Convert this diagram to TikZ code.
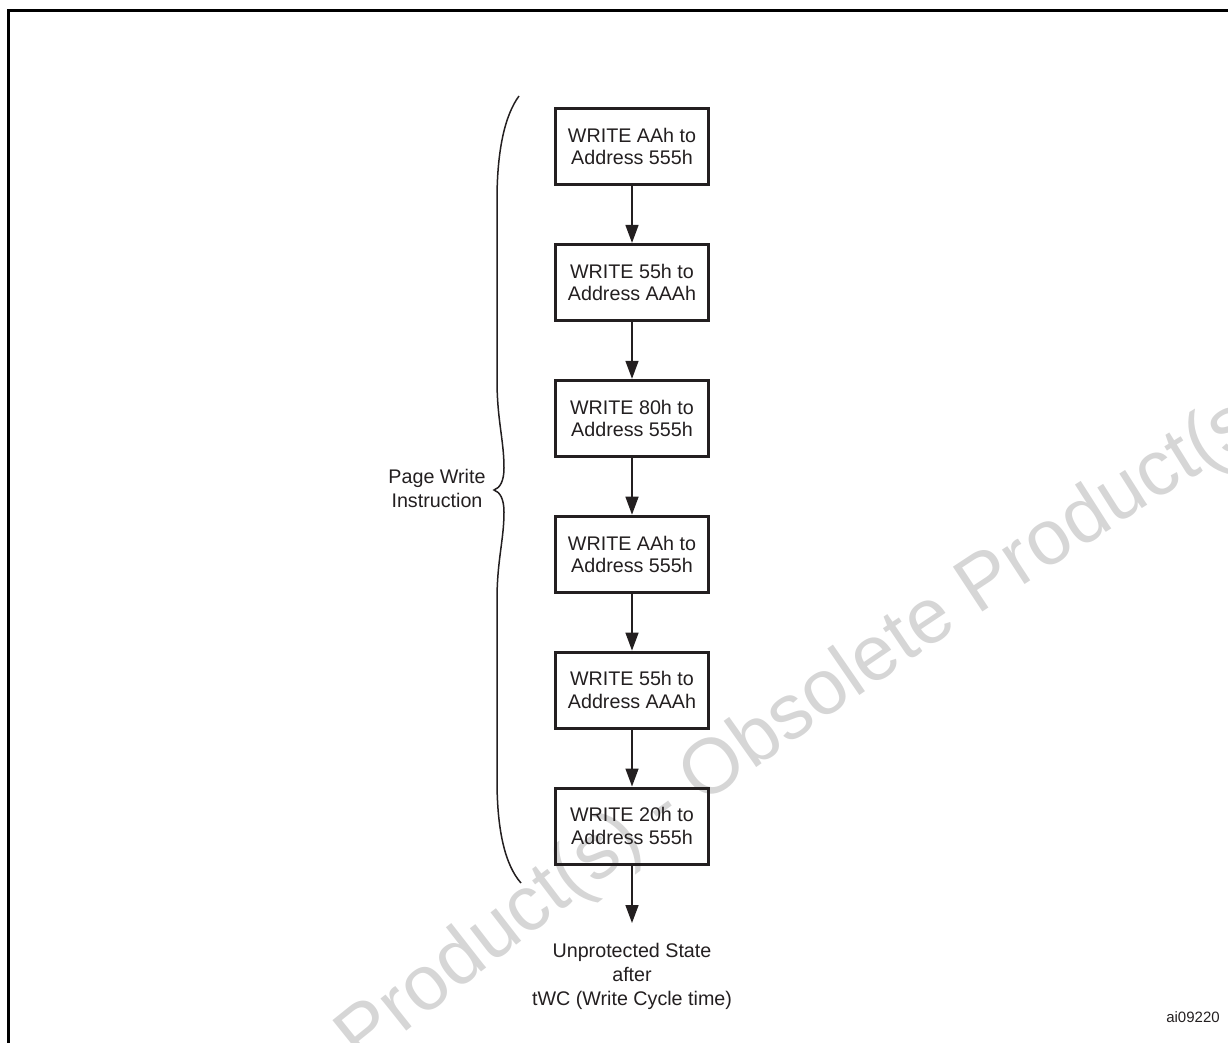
\documentclass[tikz,border=0pt]{standalone}
\usepackage{fontspec}
\setmainfont{Liberation Sans}
\usetikzlibrary{arrows.meta,decorations.text}
\definecolor{wm}{RGB}{214,214,214}
\definecolor{ink}{RGB}{35,31,32}
\tikzset{
  stepbox/.style={draw=ink, line width=3pt, minimum width=153pt, minimum height=76pt,
    inner sep=0pt, align=center, font=\fontsize{19.7}{22.5}\selectfont, text=ink},
  arr/.style={draw=ink, line width=1.5pt, -{Triangle[width=13pt,length=18pt]}},
  lbl/.style={align=center, inner sep=0pt, text=ink, font=\fontsize{19.7}{24}\selectfont},
}
\begin{document}
\begin{tikzpicture}[x=1pt,y=-1pt]
\useasboundingbox (0,0) rectangle (1228,1042);
\clip (0,0) rectangle (1228,1042);
% frame
\draw[line width=3pt] (8.5,1060) -- (8.5,10) -- (1240,10);
% watermark
\path[decorate, decoration={text along path, text align=left,
  text={|\color{wm}\fontsize{78}{84}\selectfont|Product(s) - Obsolete Product(s)}}]
  (362,1067) .. controls (655,830) and (959,617) .. (1300,412);
% boxes
\node[stepbox] (b1) at (632,146.5) {WRITE AAh to\\Address 555h};
\node[stepbox] (b2) at (632,282.4) {WRITE 55h to\\Address AAAh};
\node[stepbox] (b3) at (632,418.3) {WRITE 80h to\\Address 555h};
\node[stepbox] (b4) at (632,554.2) {WRITE AAh to\\Address 555h};
\node[stepbox] (b5) at (632,690.1) {WRITE 55h to\\Address AAAh};
\node[stepbox] (b6) at (632,826) {WRITE 20h to\\Address 555h};
\coordinate (end) at (632,923);
\draw[arr] (b1) -- (b2);
\draw[arr] (b2) -- (b3);
\draw[arr] (b3) -- (b4);
\draw[arr] (b4) -- (b5);
\draw[arr] (b5) -- (b6);
\draw[arr] (b6) -- (end);
% brace
\draw[ink, line width=1.5pt]
  (519,96) .. controls (505,115) and (497,150) .. (497,200)
  -- (497,380) .. controls (497,420) and (504,440) .. (504,468)
  .. controls (504,481) and (500,488) .. (494,490)
  .. controls (500,492) and (504,499) .. (504,512)
  .. controls (504,540) and (497,560) .. (497,600)
  -- (497,780) .. controls (497,830) and (505,865) .. (521,883);
% labels
\node[lbl] (pw) at (437,488) {Page Write\\Instruction};
\node[lbl] (res) at (632,976) {Unprotected State\\after\\tWC (Write Cycle time)};
\node[lbl, font=\fontsize{15}{18}\selectfont] (id) at (1193,1017) {ai09220};
\end{tikzpicture}
\end{document}
